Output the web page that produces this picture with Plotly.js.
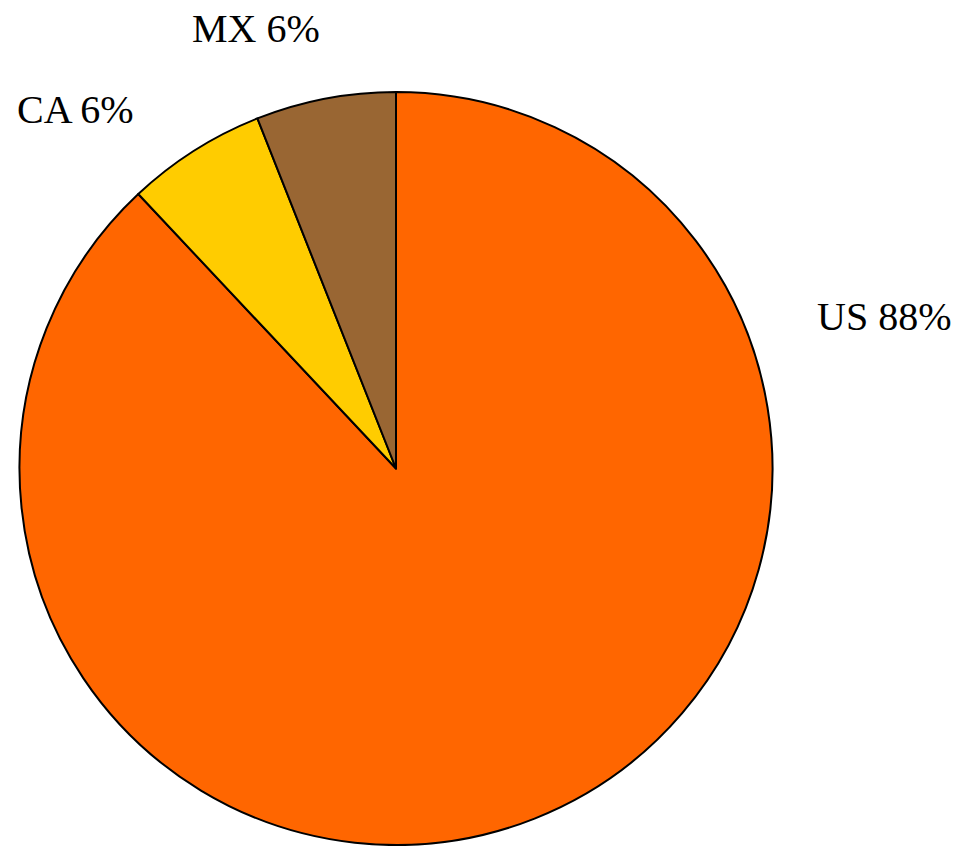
<!DOCTYPE html>
<html>
<head>
<meta charset="utf-8">
<script src="https://cdn.plot.ly/plotly-3.0.1.min.js"></script>
<style>html,body{margin:0;padding:0;background:#fff;}#chart{width:959px;height:846px;}</style>
</head>
<body>
<div id="chart"></div>
<script>
const labels = ["US", "CA", "MX"];
const values = [88, 6, 6];
const colors = ["#FF6600", "#FFCC00", "#996633"];

const W = 959, H = 846;
// label anchor positions in pixels (layout only)
const labelPos = [[884, 317], [75, 109], [256, 29]];

const total = values.reduce((a, b) => a + b, 0);
const annotations = labels.map((l, i) => ({
  text: l + " " + Math.round(values[i] / total * 100) + "%",
  x: labelPos[i][0] / W,
  y: 1 - labelPos[i][1] / H,
  xref: "paper", yref: "paper",
  xanchor: "center", yanchor: "middle",
  showarrow: false,
  font: {family: "Liberation Serif, Times New Roman, serif", size: 40, color: "#000"}
}));

const trace = {
  type: "pie",
  labels: labels,
  values: values,
  sort: false,
  direction: "clockwise",
  rotation: 0,
  textinfo: "none",
  hoverinfo: "label+percent",
  marker: {colors: colors, line: {color: "#000", width: 2}},
  domain: {x: [19 / W, 773 / W], y: [1 / H, 754 / H]},
  showlegend: false
};

Plotly.newPlot("chart", [trace], {
  width: W, height: H,
  margin: {l: 0, r: 0, t: 0, b: 0},
  paper_bgcolor: "#fff",
  showlegend: false,
  annotations: annotations
}, {displayModeBar: false, staticPlot: true});
</script>
</body>
</html>
